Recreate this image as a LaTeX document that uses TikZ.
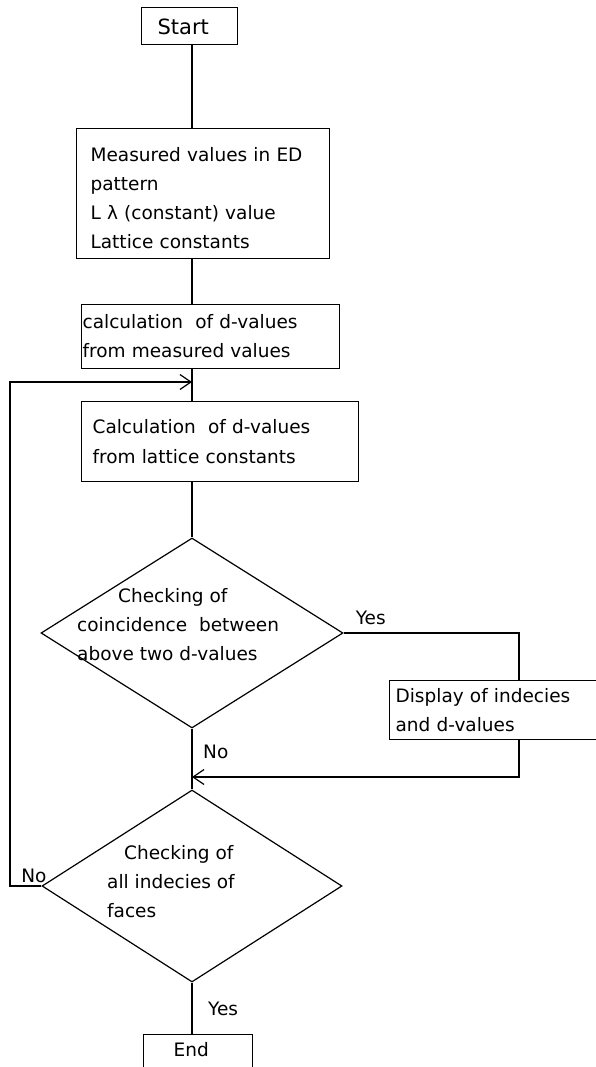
\documentclass[tikz,border=0pt]{standalone}
\usepackage{fontspec}
\setmainfont{DejaVu Sans}
\usetikzlibrary{positioning,calc,arrows.meta,shapes.geometric}
\tikzstyle{terminal}   = [draw, rectangle, line width=1.2pt, align=left, inner ysep=4pt]
\tikzstyle{procbox}    = [draw, rectangle, line width=1.2pt, anchor=north west, align=left]
\tikzstyle{decision}   = [draw, diamond, line width=1.2pt, inner sep=0pt]
\tikzstyle{flowLine}   = [line width=1.2pt]
\tikzstyle{flowArrow}  = [line width=1.2pt, ->]
\tikzset{
  every node/.style={font=\fontsize{18.5}{29}\selectfont},
  >={Straight Barb[length=11pt,width=15pt]},
  answer/.style={inner sep=0pt},
  choicetext/.style={anchor=north west, align=left, inner sep=0pt}
}

\begin{document}
\begin{tikzpicture}[x=1pt, y=-1pt]
  \clip (0,0) rectangle (596,1067);
  \coordinate (axis)    at (192,0);
  \coordinate (dropx)   at (519,0);
  \coordinate (loopx)   at (10,0);
  \coordinate (reentry) at (192,382);
  \coordinate (merge)   at (192,777);

  \node[terminal, anchor=north west, text width=64pt, inner xsep=16pt, text height=22.7pt, text depth=6.3pt,
        font=\fontsize{21}{29}\selectfont] (start) at (141,7) {Start};
  \node[procbox, minimum height=130pt, text width=225pt, inner xsep=14pt] (input) at (76,128)
    {\rule{0pt}{24pt}Measured values in ED\\pattern\\L λ (constant) value\\Lattice constants};
  \node[procbox, minimum height=64pt, text width=256pt, inner xsep=1pt] (calcmeas) at (81,304)
    {calculation\ \ of d-values\\from measured values};
  \node[procbox, minimum height=80pt, text width=255pt, inner xsep=11pt] (calclat) at (81,401)
    {Calculation\ \ of d-values\\from lattice constants};
  \node[decision, minimum width=302pt, minimum height=190pt] (coincide) at (192,633) {};
  \node[choicetext] (coincidetext) at (77,588)
    {\hspace*{41pt}Checking of\\coincidence\ \ between\\above two d-values};
  \node[procbox, minimum height=59pt, text width=218pt, inner xsep=6pt] (display) at (389,680)
    {Display of indecies\\and d-values};
  \node[decision, minimum width=300pt, minimum height=192pt] (allfaces) at (192,886) {};
  \node[choicetext] (allfacestext) at (107,845)
    {\hspace*{17pt}Checking of\\all indecies of\\faces};
  \node[terminal, anchor=north west, text width=49pt, inner xsep=30pt, text height=18pt, text depth=40pt] (end) at (143,1034) {End};

  % main line
  \draw[flowLine] (start.south -| axis) -- (input.north -| axis);
  \draw[flowLine] (input.south -| axis) -- (calcmeas.north -| axis);
  \draw[flowLine] (calcmeas.south -| axis) -- (calclat.north -| axis);
  \draw[flowLine] (calclat.south -| axis) -- (coincide.north);
  \draw[flowLine] (coincide.south) -- (allfaces.north);
  \draw[flowLine] (allfaces.south) -- (end.north -| axis);

  % branches
  \draw[flowLine]  (coincide.east) -| (display.north -| dropx);
  \draw[flowArrow] (display.south -| dropx) |- (merge);
  \draw[flowArrow] (allfaces.west) -| (loopx |- reentry) -- (reentry);

  \node[answer, anchor=west] (yesdisplay) at ($(coincide.east)+(12,-15)$) {Yes};
  \node[answer, anchor=west] (nomatch)    at ($(coincide.south)+(11,23)$) {No};
  \node[answer]              (noloop)     at ($(allfaces.west)+(-7.5,-10)$) {No};
  \node[answer, anchor=west] (yesend)     at ($(allfaces.south)+(16,26)$) {Yes};
\end{tikzpicture}
\end{document}
